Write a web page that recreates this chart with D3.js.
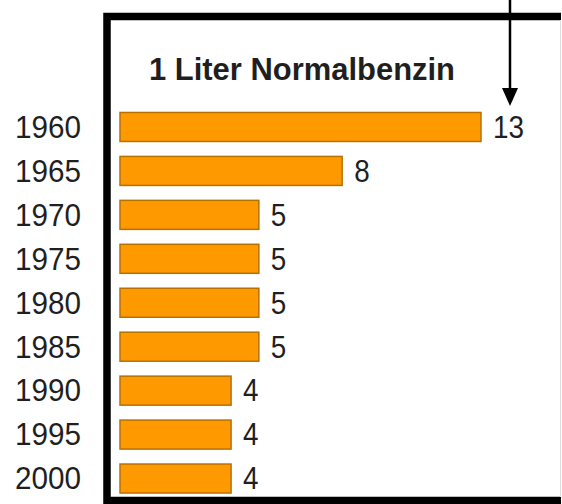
<!DOCTYPE html>
<meta charset="utf-8">
<script src="https://d3js.org/d3.v7.min.js"></script>
<style>
  body { margin: 0; background: white; }
  svg text { font-family: "Liberation Sans", Arial, sans-serif; fill: #1f1f1f; }
</style>
<div id="chart"></div>
<script>
  // data
  var years = ["1960", "1965", "1970", "1975", "1980", "1985", "1990", "1995", "2000"];
  var minutes = [13, 8, 5, 5, 5, 5, 4, 4, 4];
  var title = "1 Liter Normalbenzin";

  var width = 562, height = 504;

  var svg = d3.select("#chart")
    .append("svg")
      .attr("width", width)
      .attr("height", height);

  var x = d3.scaleLinear()
    .domain([0, 13])
    .range([120, 481]);

  var y = d3.scaleBand()
    .domain(years)
    .range([105, 500.5])
    .paddingInner(0.34)
    .paddingOuter(0.17);

  // frame (open on the right side)
  svg.append("path")
    .attr("d", "M561,16.5H107V500.5H561")
    .attr("fill", "none")
    .attr("stroke", "#000")
    .attr("stroke-width", 7.5);
  svg.append("line")
    .attr("x1", 560.5).attr("x2", 560.5)
    .attr("y1", 20).attr("y2", 497)
    .attr("stroke", "#ddd")
    .attr("stroke-width", 1);

  // title
  svg.append("text")
    .attr("x", 302)
    .attr("y", 80)
    .attr("text-anchor", "middle")
    .attr("textLength", 306)
    .attr("lengthAdjust", "spacingAndGlyphs")
    .style("font-size", "32px")
    .style("font-weight", "bold")
    .text(title);

  // year labels
  var yAxis = svg.append("g")
    .attr("transform", "translate(81,0)")
    .call(d3.axisLeft(y).tickSize(0).tickPadding(0));
  yAxis.select(".domain").remove();
  yAxis.selectAll("text")
    .attr("textLength", 66)
    .attr("lengthAdjust", "spacingAndGlyphs")
    .attr("dy", "0.35em")
    .style("font-size", "31px")
    .style("font-family", "'Liberation Sans', Arial, sans-serif")
    .attr("fill", "#1f1f1f");

  // bars
  var idx = d3.range(years.length);
  svg.selectAll("rect.bar")
    .data(idx)
    .enter()
    .append("rect")
      .attr("class", "bar")
      .attr("x", x(0))
      .attr("y", function(i) { return y(years[i]); })
      .attr("width", function(i) { return x(minutes[i]) - x(0); })
      .attr("height", y.bandwidth())
      .attr("fill", "#ff9900")
      .attr("stroke", "#b87000")
      .attr("stroke-width", 1.5);

  // value labels
  svg.selectAll("text.val")
    .data(idx)
    .enter()
    .append("text")
      .attr("class", "val")
      .attr("x", function(i) { return x(minutes[i]) + 12; })
      .attr("y", function(i) { return y(years[i]) + y.bandwidth() / 2; })
      .attr("dy", "0.35em")
      .attr("textLength", function(i) { return String(minutes[i]).length * 15.5; })
      .attr("lengthAdjust", "spacingAndGlyphs")
      .style("font-size", "31px")
      .text(function(i) { return minutes[i]; });

  // arrow pointing at the top bar
  var ax = 510;
  svg.append("line")
    .attr("x1", ax).attr("x2", ax)
    .attr("y1", 0).attr("y2", 92)
    .attr("stroke", "#000")
    .attr("stroke-width", 2.5);
  svg.append("path")
    .attr("d", "M" + (ax - 8) + ",88L" + (ax + 8) + ",88L" + ax + ",106Z")
    .attr("fill", "#000");
</script>
